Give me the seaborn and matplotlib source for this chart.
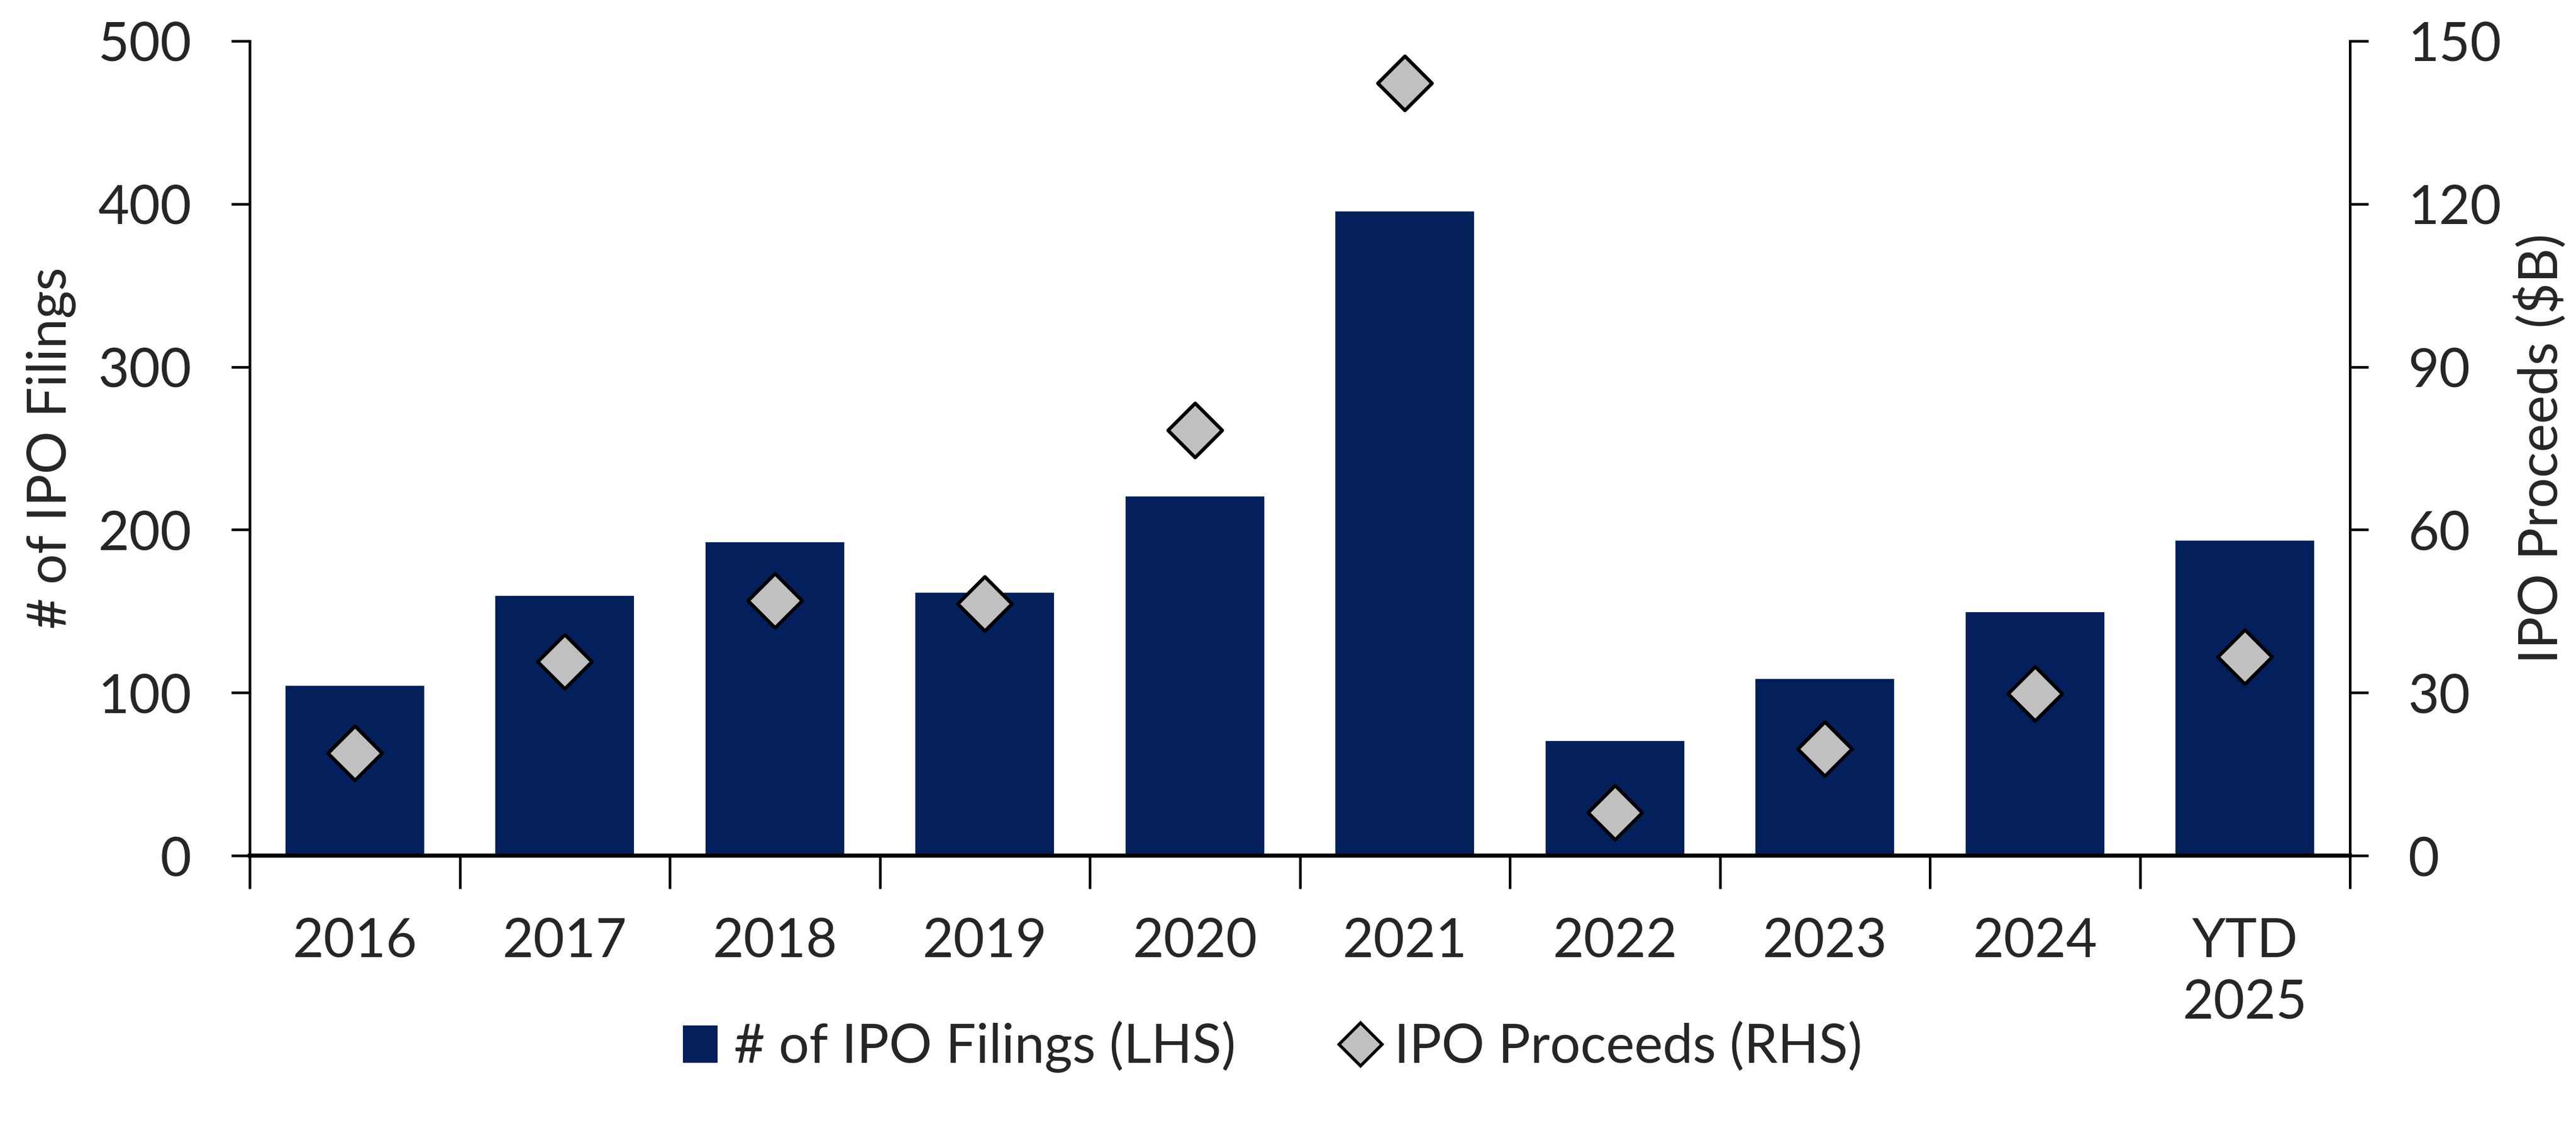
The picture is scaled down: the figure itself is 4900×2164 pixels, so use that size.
import matplotlib
matplotlib.use("Agg")
import matplotlib.pyplot as plt
import seaborn as sns
import pandas as pd
from matplotlib.lines import Line2D
from matplotlib.patches import Patch
from matplotlib.ticker import FixedLocator

# data
years = ["2016", "2017", "2018", "2019", "2020", "2021", "2022", "2023", "2024", "YTD\n2025"]
filings = [105, 160, 193, 162, 221, 396, 71, 109, 150, 194]
proceeds = [18.9, 35.7, 47.0, 46.4, 78.3, 142.3, 7.9, 19.7, 29.8, 36.6]

navy = "#03205C"
grey = "#C0C0C0"
fs = 24.5

sns.set_style("white")
plt.rcParams["font.family"] = ["Lato", "DejaVu Sans"]
plt.rcParams["font.size"] = fs

df = pd.DataFrame({"year": years, "filings": filings, "proceeds": proceeds})

fig = plt.figure(figsize=(4900 / 300, 2164 / 300), dpi=300)
ax = fig.add_axes([475 / 4900, 1 - 1627 / 2164, (4470 - 475) / 4900, (1627 - 78) / 2164])

sns.barplot(data=df, x="year", y="filings", color=navy, saturation=1, width=0.67, ax=ax)
ax.set_ylim(0, 500)
ax.set_xlim(-0.5, len(years) - 0.5)
ax.set_yticks(range(0, 501, 100))
ax.set_ylabel("# of IPO Filings", fontsize=fs, labelpad=10)
ax.set_xlabel("")

ax2 = ax.twinx()
sns.scatterplot(data=df, x="year", y="proceeds", marker="D", s=17.5 ** 2,
                color=grey, edgecolor="black", linewidth=1.6, ax=ax2, zorder=5)
ax2.set_ylim(0, 150)
ax2.set_yticks(range(0, 151, 30))
ax2.set_ylabel("IPO Proceeds ($B)", fontsize=fs, labelpad=6)
ax2.set_xlim(-0.5, len(years) - 0.5)

# x: labels at category centres, tick marks between categories
ax.xaxis.set_minor_locator(FixedLocator([i - 0.5 for i in range(len(years) + 1)]))
ax.tick_params(axis="x", which="major", length=0, pad=28, labelsize=fs)
ax.tick_params(axis="x", which="minor", length=15, width=1.2, direction="out", color="black", bottom=True)
for t in ax.get_xticklabels():
    t.set_linespacing(1.3)

ax.tick_params(axis="y", length=8.5, width=1.2, direction="out", pad=18, labelsize=fs, color="black", left=True)
ax2.tick_params(axis="y", length=8.5, width=1.2, direction="out", pad=18, labelsize=fs, color="black", right=True)

for a in (ax, ax2):
    a.spines["top"].set_visible(False)
    a.spines["left"].set_linewidth(1.2)
    a.spines["right"].set_linewidth(1.2)
    a.spines["bottom"].set_linewidth(1.8)
    for s in a.spines.values():
        s.set_color("black")
ax.spines["right"].set_visible(False)
ax2.spines["left"].set_visible(False)

handles = [
    Patch(facecolor=navy, edgecolor="none", label="# of IPO Filings (LHS)"),
    Line2D([], [], marker="D", linestyle="none", markersize=14, markerfacecolor=grey,
           markeredgecolor="black", markeredgewidth=1.4, label="IPO Proceeds (RHS)"),
]
fig.legend(handles=handles, loc="center", bbox_to_anchor=(0.494, 0.080), ncol=2,
           frameon=False, fontsize=fs, handlelength=0.65, handleheight=0.7,
           handletextpad=0.3, columnspacing=2.0)

fig.savefig("out.png", dpi=300)
